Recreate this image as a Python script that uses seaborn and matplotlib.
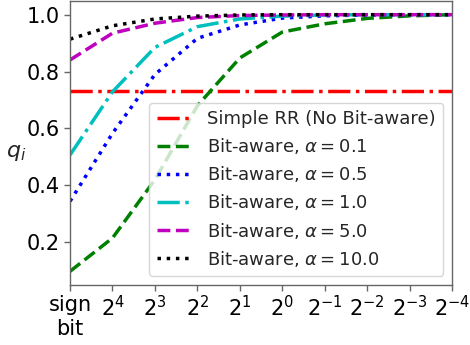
import matplotlib
matplotlib.use("Agg")
import matplotlib.pyplot as plt
import seaborn as sns
import numpy as np
import pandas as pd

sns.set_style("ticks")
plt.rcParams['font.family'] = ['DejaVu Sans']

tick_labels = ["sign\nbit", r"$2^4$", r"$2^3$", r"$2^2$", r"$2^1$", r"$2^0$",
               r"$2^{-1}$", r"$2^{-2}$", r"$2^{-3}$", r"$2^{-4}$"]
positions = list(range(len(tick_labels)))

simple_rr = [0.731] * 10
alpha_01 = [0.098, 0.215, 0.42, 0.68, 0.848, 0.939, 0.968, 0.987, 0.996, 1.0]
alpha_05 = [0.344, 0.583, 0.79, 0.917, 0.964, 0.988, 0.996, 0.999, 1.0, 1.0]
alpha_10 = [0.507, 0.729, 0.885, 0.958, 0.985, 0.995, 0.999, 1.0, 1.0, 1.0]
alpha_50 = [0.841, 0.935, 0.97, 0.99, 0.997, 0.999, 1.0, 1.0, 1.0, 1.0]
alpha_100 = [0.914, 0.961, 0.985, 0.995, 0.999, 1.0, 1.0, 1.0, 1.0, 1.0]

series = [
    ("Simple RR (No Bit-aware)", simple_rr, "red", "-."),
    (r"Bit-aware, $\alpha = 0.1$", alpha_01, "green", "--"),
    (r"Bit-aware, $\alpha = 0.5$", alpha_05, "blue", ":"),
    (r"Bit-aware, $\alpha = 1.0$", alpha_10, "c", "-."),
    (r"Bit-aware, $\alpha = 5.0$", alpha_50, "m", "--"),
    (r"Bit-aware, $\alpha = 10.0$", alpha_100, "black", ":"),
]

fig, ax = plt.subplots(figsize=(4.7, 3.45), dpi=100)
fig.subplots_adjust(left=0.149, right=0.962, top=0.997, bottom=0.174)

for label, vals, color, ls in series:
    df = pd.DataFrame({"x": positions, "y": vals})
    sns.lineplot(data=df, x="x", y="y", ax=ax, color=color, linestyle=ls,
                 linewidth=2.5, label=label)

ax.set_xlim(0, 9)
ax.set_ylim(0.05, 1.048)
ax.set_xticks(positions)
ax.set_xticklabels(tick_labels, fontsize=15)
ax.set_yticks([0.2, 0.4, 0.6, 0.8, 1.0])
ax.set_yticklabels(["0.2", "0.4", "0.6", "0.8", "1.0"], fontsize=15)
ax.set_xlabel("")
ax.set_ylabel(r"$q_i$", fontsize=16, rotation=0, va="center", ha="center")
ax.yaxis.set_label_coords(-0.142, 0.465)
for sp in ax.spines.values():
    sp.set_color("#666666")
    sp.set_linewidth(1.0)
ax.tick_params(colors="#666666", labelcolor="black", length=4, width=1)

leg = ax.legend(loc="lower right", fontsize=13, labelspacing=0.45,
                framealpha=0.8)

fig.savefig("out.png", dpi=100)
